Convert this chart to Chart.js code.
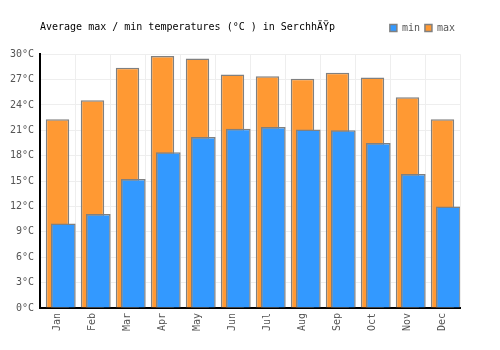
<!DOCTYPE html>
<html>
<head>
<meta charset="utf-8">
<script src="https://cdn.jsdelivr.net/npm/chart.js@4"></script>
<style>
  html, body { margin: 0; padding: 0; background: #fff; }
  #wrap { width: 500px; height: 350px; }
</style>
</head>
<body>
<div id="wrap"><canvas id="chart" width="500" height="350"></canvas></div>
<script>
// data
const months = ['Jan', 'Feb', 'Mar', 'Apr', 'May', 'Jun', 'Jul', 'Aug', 'Sep', 'Oct', 'Nov', 'Dec'];
const minTemps = [10.0, 11.1, 15.25, 18.4, 20.2, 21.2, 21.4, 21.1, 21.0, 19.5, 15.85, 12.0];
const maxTemps = [22.3, 24.55, 28.4, 29.8, 29.5, 27.6, 27.4, 27.1, 27.8, 27.25, 24.9, 22.3];
const yTicks = [0, 3, 6, 9, 12, 15, 18, 21, 24, 27, 30];
const titleText = 'Average max / min temperatures (°C ) in SerchhÄŸp';

const MONO = '"DejaVu Sans Mono", "Liberation Mono", monospace';

// title sits on the same row as the legend, so draw it by hand
const titleRow = {
  id: 'titleRow',
  afterDraw(chart) {
    const ctx = chart.ctx;
    ctx.save();
    ctx.font = '10px ' + MONO;
    ctx.fillStyle = '#000';
    ctx.textBaseline = 'middle';
    ctx.textAlign = 'left';
    ctx.fillText(titleText, 40, 27);
    ctx.restore();
  }
};

new Chart(document.getElementById('chart'), {
  type: 'bar',
  data: {
    labels: months,
    datasets: [
      {
        label: 'min',
        data: minTemps,
        backgroundColor: '#3399ff',
        borderColor: '#808080',
        borderWidth: 1.5,
        categoryPercentage: 0.663,
        barPercentage: 2.13
      },
      {
        // max bars are centred on the month, behind the min bars
        label: 'max',
        data: maxTemps,
        grouped: false,
        backgroundColor: '#ff9933',
        borderColor: '#808080',
        borderWidth: 1.5,
        categoryPercentage: 1,
        barPercentage: 0.67
      },
      {
        // empty slot that pushes the min bars to the right of each month
        label: '',
        data: [],
        order: -1,
        categoryPercentage: 0.663,
        barPercentage: 2.13
      }
    ]
  },
  options: {
    responsive: false,
    animation: false,
    layout: { padding: { top: 18, right: 40, bottom: 0, left: 0 } },
    plugins: {
      title: { display: false },
      // blank spacer between the legend row and the plot
      subtitle: {
        display: true,
        text: ' ',
        color: 'rgba(0,0,0,0)',
        weight: 500,
        font: { size: 1 },
        padding: { top: 0, bottom: 10 }
      },
      tooltip: { enabled: false },
      legend: {
        position: 'top',
        align: 'end',
        labels: {
          boxWidth: 7,
          boxHeight: 7,
          padding: 5,
          color: '#555',
          font: { family: MONO, size: 10 },
          filter: (item) => item.text !== ''
        }
      }
    },
    scales: {
      x: {
        offset: true,
        grid: { color: '#eeeeee', offset: true, drawTicks: false },
        border: { color: '#000', width: 2 },
        ticks: {
          color: '#555',
          font: { family: MONO, size: 10 },
          minRotation: 90,
          maxRotation: 90,
          padding: 5
        },
        afterFit(scale) { scale.height = 42; }
      },
      y: {
        min: 0,
        max: 30,
        grid: { color: '#eeeeee', drawTicks: false },
        border: { color: '#000', width: 2 },
        afterBuildTicks(scale) { scale.ticks = yTicks.map(v => ({ value: v })); },
        ticks: {
          color: '#555',
          font: { family: MONO, size: 10 },
          padding: 6,
          callback: (v) => v + '°C'
        },
        afterFit(scale) { scale.width = 40; }
      }
    }
  },
  plugins: [titleRow]
});
</script>
</body>
</html>
